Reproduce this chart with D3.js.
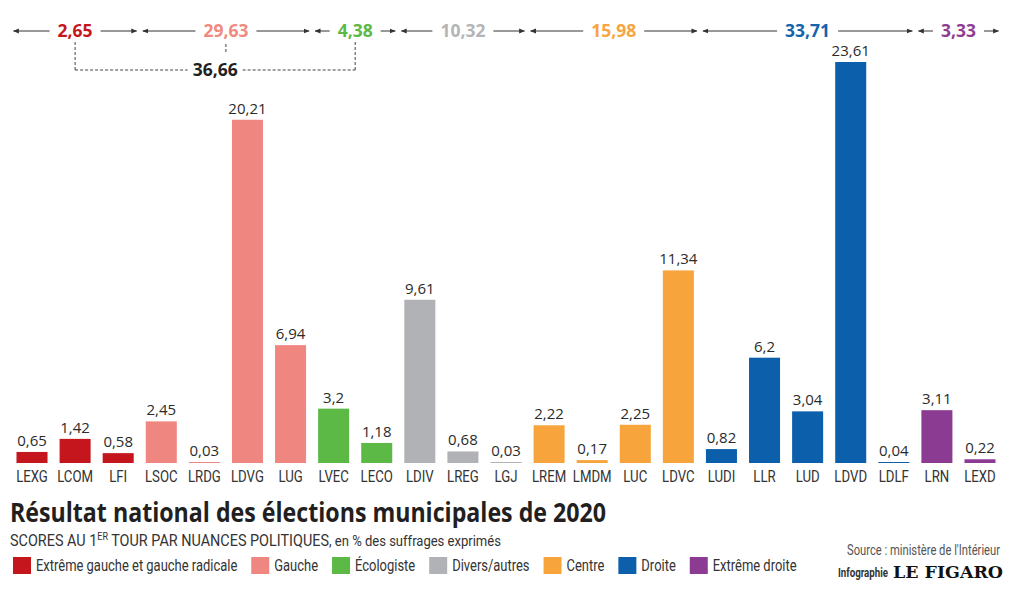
<!DOCTYPE html>
<html>
<head>
<meta charset="utf-8">
<script src="https://cdn.jsdelivr.net/npm/d3@7/dist/d3.min.js"></script>
<style>
  body { margin: 0; background: #fff; }
  svg { display: block; }
  .narrow { font-family: "Roboto", sans-serif; }
</style>
</head>
<body>
<svg id="chart" width="1021" height="589"></svg>
<script>
const CATEGORIES = ["LEXG", "LCOM", "LFI", "LSOC", "LRDG", "LDVG", "LUG", "LVEC", "LECO",
  "LDIV", "LREG", "LGJ", "LREM", "LMDM", "LUC", "LDVC", "LUDI", "LLR", "LUD", "LDVD",
  "LDLF", "LRN", "LEXD"];
const VALUES = [0.65, 1.42, 0.58, 2.45, 0.03, 20.21, 6.94, 3.2, 1.18,
  9.61, 0.68, 0.03, 2.22, 0.17, 2.25, 11.34, 0.82, 6.2, 3.04, 23.61,
  0.04, 3.11, 0.22];
const CATEGORY_GROUP = [0, 0, 0, 1, 1, 1, 1, 2, 2, 3, 3, 3, 4, 4, 4, 4, 5, 5, 5, 5, 5, 6, 6];
const GROUP_NAMES = ["Extrême gauche et gauche radicale", "Gauche", "Écologiste",
  "Divers/autres", "Centre", "Droite", "Extrême droite"];
const GROUP_COLORS = ["#c4161c", "#f08680", "#5cb946", "#b1b2b5", "#f7a43c", "#0b5fab", "#8c3b93"];
const TEXT_COLORS = ["#c8161d", "#f08a80", "#5cb946", "#b5b5b8", "#f7a541", "#1563ad", "#8e3d93"];
const LEFT_UNION = [0, 1, 2];

const fmt = (v) => String(+v.toFixed(2)).replace(".", ",");

const svg = d3.select("#chart");

// condensed text: Roboto squeezed horizontally around its anchor point
const narrow = (parent, x0, y0, k) =>
  parent.append("text")
    .attr("class", "narrow")
    .attr("transform", `translate(${x0},${y0}) scale(${k},1)`);

const x = d3.scaleBand().domain(CATEGORIES).range([16.5, 995.5]).paddingInner(0.28);
const y = d3.scaleLinear().domain([0, d3.max(VALUES)]).range([463, 62]);

const bars = CATEGORIES.map((c, i) => ({ cat: c, value: VALUES[i], group: CATEGORY_GROUP[i] }));

// bars
svg.append("g")
  .selectAll("rect")
  .data(bars)
  .join("rect")
  .attr("x", (d) => x(d.cat))
  .attr("width", x.bandwidth())
  .attr("y", (d) => Math.min(y(d.value), y(0) - 1))
  .attr("height", (d) => Math.max(y(0) - y(d.value), 1))
  .attr("fill", (d) => GROUP_COLORS[d.group]);

// value labels
svg.append("g")
  .selectAll("text")
  .data(bars)
  .join("text")
  .attr("x", (d) => x(d.cat) + x.bandwidth() / 2)
  .attr("y", (d) => y(d.value) - 6)
  .attr("text-anchor", "middle")
  .style("font-family", "'Open Sans', sans-serif")
  .style("font-size", "15px")
  .style("fill", "#2b2b2b")
  .text((d) => fmt(d.value));

// category labels
const catG = svg.append("g");
bars.forEach((d) => {
  narrow(catG, x(d.cat) + x.bandwidth() / 2, 482, 0.8)
    .attr("text-anchor", "middle")
    .style("font-size", "16.5px")
    .style("fill", "#333")
    .text(d.cat);
});

// group totals with arrows
const groups = GROUP_NAMES.map((name, g) => {
  const members = bars.filter((d) => d.group == g);
  const x0 = x(members[0].cat) - 3;
  const x1 = x(members[members.length - 1].cat) + x.bandwidth() + 3;
  return { g, name, total: d3.sum(members, (d) => d.value), x0, x1, cx: (x0 + x1) / 2 };
});

const defs = svg.append("defs");
defs.append("marker")
  .attr("id", "arrow")
  .attr("viewBox", "0 0 10 10")
  .attr("refX", 9).attr("refY", 5)
  .attr("markerWidth", 6).attr("markerHeight", 6)
  .attr("orient", "auto-start-reverse")
  .attr("markerUnits", "userSpaceOnUse")
  .append("path")
  .attr("d", "M0,1 L10,5 L0,9 Z")
  .attr("fill", "#333");

const HEAD_Y = 31;
const head = svg.append("g");
groups.forEach((gr) => {
  const t = head.append("text")
    .attr("x", gr.cx)
    .attr("y", HEAD_Y + 6)
    .attr("text-anchor", "middle")
    .style("font-family", "'Open Sans', sans-serif")
    .style("font-weight", "bold")
    .style("font-size", "17.5px")
    .style("fill", TEXT_COLORS[gr.g])
    .text(fmt(gr.total));
  const w = t.node().getComputedTextLength();
  head.append("line")
    .attr("x1", gr.cx - w / 2 - 8).attr("x2", gr.x0)
    .attr("y1", HEAD_Y).attr("y2", HEAD_Y)
    .attr("stroke", "#333").attr("stroke-width", 1)
    .attr("marker-end", "url(#arrow)");
  head.append("line")
    .attr("x1", gr.cx + w / 2 + 8).attr("x2", gr.x1)
    .attr("y1", HEAD_Y).attr("y2", HEAD_Y)
    .attr("stroke", "#333").attr("stroke-width", 1)
    .attr("marker-end", "url(#arrow)");
});

// bracket for the left union
const ul = groups[LEFT_UNION[0]], um = groups[LEFT_UNION[1]], ur = groups[LEFT_UNION[2]];
const BR_Y = 70;
const midX = (ul.cx + ur.cx) / 2;
const union = svg.append("g");
const ut = union.append("text")
  .attr("x", midX)
  .attr("y", BR_Y + 6)
  .attr("text-anchor", "middle")
  .style("font-family", "'Open Sans', sans-serif")
  .style("font-weight", "bold")
  .style("font-size", "17.5px")
  .style("fill", "#231f20")
  .text(fmt(d3.sum(LEFT_UNION, (g) => groups[g].total)));
const uw = ut.node().getComputedTextLength();
const dash = (x1, y1, x2, y2) => union.append("line")
  .attr("x1", x1).attr("y1", y1).attr("x2", x2).attr("y2", y2)
  .attr("stroke", "#444").attr("stroke-width", 1).attr("stroke-dasharray", "3,2");
dash(ul.cx, 42, ul.cx, BR_Y);
dash(ur.cx, 42, ur.cx, BR_Y);
dash(um.cx, 44, um.cx, 54);
dash(ul.cx, BR_Y, midX - uw / 2 - 5, BR_Y);
dash(midX + uw / 2 + 5, BR_Y, ur.cx, BR_Y);

// title & subtitle
svg.append("text")
  .attr("x", 10).attr("y", 522)
  .style("font-family", "'Open Sans', sans-serif")
  .style("font-weight", "bold")
  .style("font-size", "26px")
  .style("fill", "#231f20")
  .attr("textLength", 596)
  .attr("lengthAdjust", "spacingAndGlyphs")
  .text("Résultat national des élections municipales de 2020");

const sub = narrow(svg, 10, 546, 0.9)
  .style("font-size", "16px")
  .style("fill", "#333");
sub.append("tspan").text("SCORES AU 1");
sub.append("tspan").attr("dy", -6).style("font-size", "10px").text("ER");
sub.append("tspan").attr("dy", 6).text(" TOUR PAR NUANCES POLITIQUES");
sub.append("tspan").style("font-size", "14.5px").text(", en % des suffrages exprimés");

// legend
const legend = svg.append("g");
const LEG_K = 0.81;
let lx = 13;
GROUP_NAMES.forEach((name, g) => {
  legend.append("rect")
    .attr("x", lx).attr("y", 557)
    .attr("width", 18).attr("height", 17)
    .attr("fill", GROUP_COLORS[g]);
  const t = narrow(legend, lx + 23, 571, LEG_K)
    .style("font-size", "16px")
    .style("fill", "#333")
    .text(name);
  lx += 23 + t.node().getComputedTextLength() * LEG_K + 14;
});

// source
narrow(svg, 1000, 555, 0.8)
  .attr("text-anchor", "end")
  .style("font-size", "14px")
  .style("fill", "#555")
  .text("Source : ministère de l'Intérieur");
narrow(svg, 888, 577, 0.72)
  .attr("text-anchor", "end")
  .style("font-weight", "bold")
  .style("font-size", "13.5px")
  .style("fill", "#333")
  .text("Infographie");
svg.append("text")
  .attr("x", 893).attr("y", 578)
  .style("font-family", "'DejaVu Serif', serif")
  .style("font-weight", "bold")
  .style("font-size", "17px")
  .style("fill", "#111")
  .attr("textLength", 110)
  .attr("lengthAdjust", "spacingAndGlyphs")
  .text("LE FIGARO");
</script>
</body>
</html>
